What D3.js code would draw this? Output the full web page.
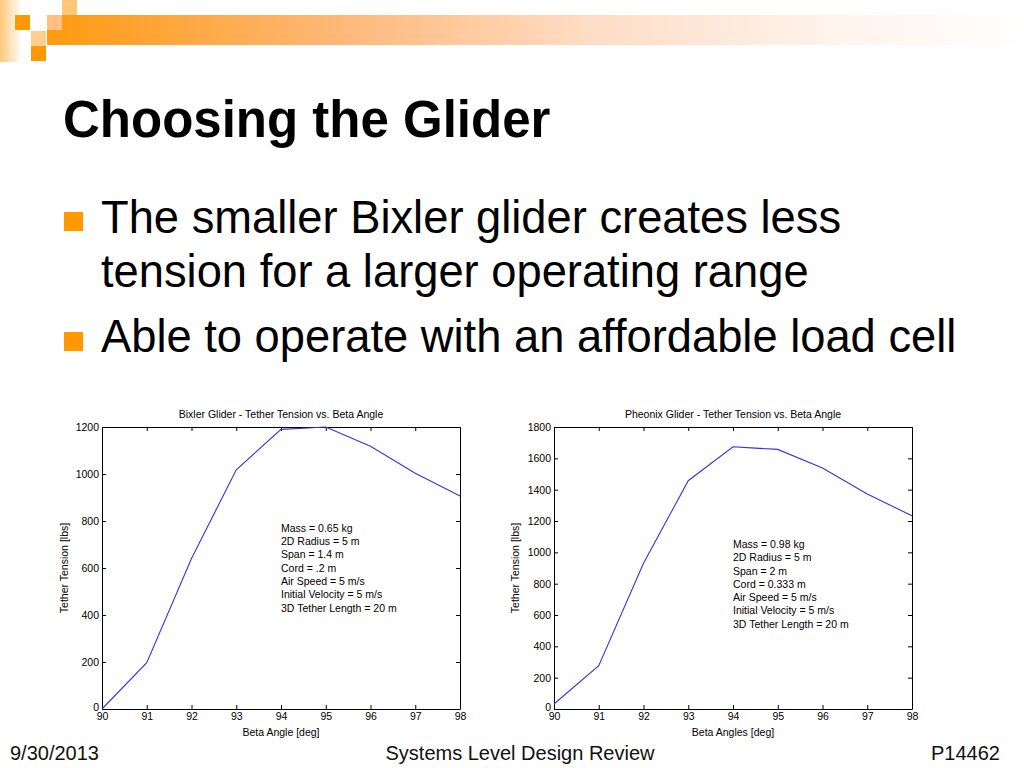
<!DOCTYPE html>
<html>
<head>
<meta charset="utf-8">
<script src="https://cdnjs.cloudflare.com/ajax/libs/d3/7.8.5/d3.min.js"></script>
<style>
  body { margin: 0; background: #fff; }
  svg { display: block; }
</style>
</head>
<body>
<div id="slide"></div>
<script>
// values
const betaAngles = [90, 91, 92, 93, 94, 94.5, 95, 96, 97, 98];
const bixlerTension = [0, 197, 640, 1018, 1190, 1195, 1200, 1118, 1003, 906];
const pheonixTension = [32, 277, 930, 1457, 1674, 1665, 1657, 1538, 1372, 1233];

const xTicks = [90, 91, 92, 93, 94, 95, 96, 97, 98];
const bixlerYTicks = [0, 200, 400, 600, 800, 1000, 1200];
const pheonixYTicks = [0, 200, 400, 600, 800, 1000, 1200, 1400, 1600, 1800];

const bixlerNotes = ["Mass = 0.65 kg", "2D Radius = 5 m", "Span = 1.4 m", "Cord = .2 m",
  "Air Speed = 5 m/s", "Initial Velocity = 5 m/s", "3D Tether Length = 20 m"];
const pheonixNotes = ["Mass = 0.98 kg", "2D Radius = 5 m", "Span = 2 m", "Cord = 0.333 m",
  "Air Speed = 5 m/s", "Initial Velocity = 5 m/s", "3D Tether Length = 20 m"];

const bullets = [
  ["The smaller Bixler glider creates less", "tension for a larger operating range"],
  ["Able to operate with an affordable load cell"]
];

const W = 1024, H = 768;
const orange = "#ff9900";
const font = "'Liberation Sans', Arial, Helvetica, sans-serif";

var svg = d3.select("#slide")
  .append("svg")
  .attr("width", W)
  .attr("height", H)
  .style("font-family", font);

// top-left decoration
var defs = svg.append("defs");
var band = defs.append("linearGradient").attr("id", "band");
band.append("stop").attr("offset", "0%").attr("stop-color", "#ff9a10");
band.append("stop").attr("offset", "30%").attr("stop-color", "#ffb878");
band.append("stop").attr("offset", "55%").attr("stop-color", "#ffdcc4");
band.append("stop").attr("offset", "80%").attr("stop-color", "#fff3ec");
band.append("stop").attr("offset", "100%").attr("stop-color", "#ffffff");
var strip = defs.append("linearGradient").attr("id", "strip");
strip.append("stop").attr("offset", "0%").attr("stop-color", "#ffc87a");
strip.append("stop").attr("offset", "100%").attr("stop-color", "#ffffff");

svg.append("rect").attr("x", 0).attr("y", 0).attr("width", 22).attr("height", 62).attr("fill", "url(#strip)");
svg.append("rect").attr("x", 47).attr("y", 15).attr("width", 980).attr("height", 30).attr("fill", "url(#band)");
var squares = [
  [15, 15, orange], [62, 0, "#ffc878"], [47, 15, "#ffc080"],
  [31, 31, "#ffcf90"], [31, 46, orange]
];
svg.selectAll("rect.sq")
  .data(squares)
  .enter()
  .append("rect")
  .attr("class", "sq")
  .attr("x", d => d[0])
  .attr("y", d => d[1])
  .attr("width", 15)
  .attr("height", 15)
  .attr("fill", d => d[2]);

// title and bullets
svg.append("text")
  .attr("x", 63)
  .attr("y", 137)
  .attr("font-size", 51)
  .attr("font-weight", "bold")
  .text("Choosing the Glider");

var bulletTops = [212, 332];
var lineBase = [[233, 287], [352]];
bullets.forEach(function (lines, i) {
  svg.append("rect")
    .attr("x", 64).attr("y", bulletTops[i])
    .attr("width", 19).attr("height", 19)
    .attr("fill", orange);
  lines.forEach(function (t, j) {
    svg.append("text")
      .attr("x", 101)
      .attr("y", lineBase[i][j])
      .attr("font-size", 45.3)
      .text(t);
  });
});

// footer (its top is hidden under the chart pictures)
var footer = [["9/30/2013", 10, "start"], ["Systems Level Design Review", 520, "middle"], ["P14462", 1000, "end"]];
footer.forEach(function (f) {
  svg.append("text")
    .attr("x", f[1]).attr("y", 760)
    .attr("font-size", 20)
    .attr("text-anchor", f[2])
    .attr("fill", "#111")
    .text(f[0]);
});
svg.append("rect")
  .attr("x", 0).attr("y", 735)
  .attr("width", W).attr("height", 10)
  .attr("fill", "#fff");

function drawChart(cfg) {
  var g = svg.append("g").attr("font-size", 10.5);

  g.append("rect")
    .attr("x", cfg.box[0]).attr("y", 403)
    .attr("width", cfg.box[1] - cfg.box[0]).attr("height", 342)
    .attr("fill", "#fff");

  var x = d3.scaleLinear().domain([90, 98]).range([cfg.left, cfg.right]);
  var y = d3.scaleLinear().domain([0, cfg.yMax]).range([709, 427]);

  var bottom = g.append("g")
    .attr("transform", "translate(0,709)")
    .call(d3.axisBottom(x).tickValues(xTicks).tickSizeInner(-4).tickSizeOuter(0).tickPadding(4));
  var top = g.append("g")
    .attr("transform", "translate(0,427)")
    .call(d3.axisTop(x).tickValues(xTicks).tickSizeInner(-4).tickSizeOuter(0).tickFormat(""));
  var left = g.append("g")
    .attr("transform", "translate(" + cfg.left + ",0)")
    .call(d3.axisLeft(y).tickValues(cfg.yTicks).tickFormat(d3.format("d"))
      .tickSizeInner(-4).tickSizeOuter(0).tickPadding(3));
  var right = g.append("g")
    .attr("transform", "translate(" + cfg.right + ",0)")
    .call(d3.axisRight(y).tickValues(cfg.yTicks).tickSizeInner(-4).tickSizeOuter(0).tickFormat(""));

  [bottom, top, left, right].forEach(function (a) {
    a.attr("font-family", font).attr("font-size", 10.5);
    a.selectAll("line, path").attr("stroke", "#000");
    a.selectAll("text").attr("fill", "#000");
  });
  // the "0" sits just above the corner, as MATLAB draws it
  left.selectAll(".tick text").filter(d => d === 0).attr("dy", "0.1em");

  var line = d3.line()
    .x((d, i) => x(betaAngles[i]))
    .y(d => y(d));

  g.append("path")
    .datum(cfg.values)
    .attr("d", line)
    .attr("fill", "none")
    .attr("stroke", "#3434dc")
    .attr("stroke-width", 1.1);

  var mid = (cfg.left + cfg.right) / 2;
  g.append("text")
    .attr("x", mid).attr("y", 418)
    .attr("text-anchor", "middle")
    .text(cfg.title);

  g.append("text")
    .attr("x", mid).attr("y", 736)
    .attr("text-anchor", "middle")
    .text(cfg.xLabel);

  g.append("text")
    .attr("transform", "translate(" + cfg.yLabelX + ",568) rotate(-90)")
    .attr("text-anchor", "middle")
    .text("Tether Tension [lbs]");

  var notes = g.append("text")
    .attr("x", x(94))
    .attr("y", y(cfg.noteY));
  notes.selectAll("tspan")
    .data(cfg.notes)
    .enter()
    .append("tspan")
    .attr("x", x(94))
    .attr("dy", (d, i) => i === 0 ? 0 : 13.3)
    .text(d => d);
}

drawChart({
  box: [52, 470], left: 102, right: 460, yMax: 1200,
  yTicks: bixlerYTicks, values: bixlerTension,
  title: "Bixler Glider - Tether Tension vs. Beta Angle",
  xLabel: "Beta Angle [deg]", yLabelX: 68,
  notes: bixlerNotes, noteY: 754
});

drawChart({
  box: [505, 922], left: 554, right: 912, yMax: 1800,
  yTicks: pheonixYTicks, values: pheonixTension,
  title: "Pheonix Glider - Tether Tension vs. Beta Angle",
  xLabel: "Beta Angles [deg]", yLabelX: 519,
  notes: pheonixNotes, noteY: 1028
});
</script>
</body>
</html>
